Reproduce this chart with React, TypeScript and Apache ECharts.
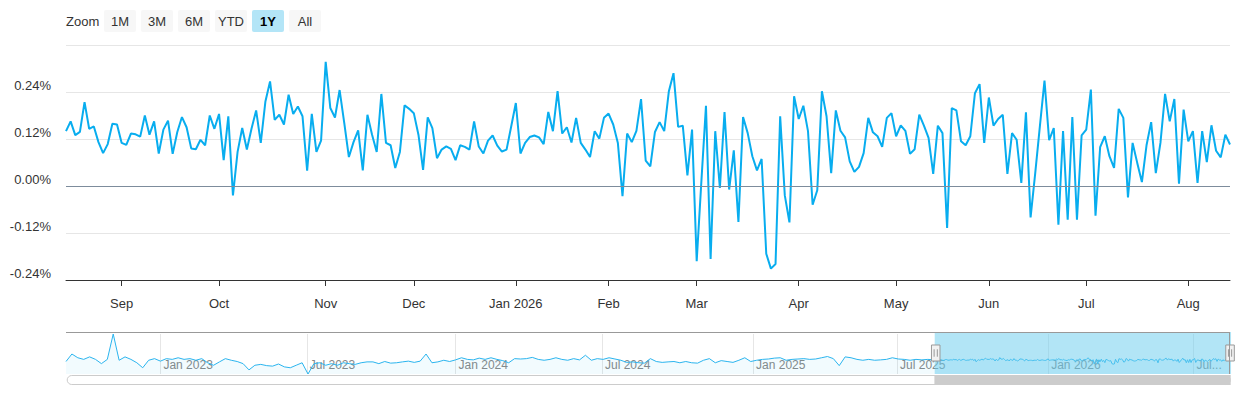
import React, { useEffect, useRef } from "react";
import * as echarts from "echarts";

// ---- calendar (trading days) ----
const START_DATE = "2022-09-08";
const END_DATE = "2026-08-14";
const HOLIDAYS = [
  "2022-09-05", "2022-11-24", "2022-12-26",
  "2023-01-02", "2023-01-16", "2023-02-20", "2023-04-07", "2023-05-29", "2023-06-19", "2023-07-04", "2023-09-04", "2023-11-23", "2023-12-25",
  "2024-01-01", "2024-01-15", "2024-02-19", "2024-03-29", "2024-05-27", "2024-06-19", "2024-07-04", "2024-09-02", "2024-11-28", "2024-12-25",
  "2025-01-01", "2025-01-09", "2025-01-20", "2025-02-17", "2025-04-18", "2025-05-26", "2025-06-19", "2025-07-04", "2025-09-01", "2025-11-27", "2025-12-25",
  "2026-01-01", "2026-01-19", "2026-02-16", "2026-04-03", "2026-05-25", "2026-06-19", "2026-07-03",
];
const MONTHS = ["Jan", "Feb", "Mar", "Apr", "May", "Jun", "Jul", "Aug", "Sep", "Oct", "Nov", "Dec"];

// ---- navigator history (one reading every 5 trading days, % change) ----
const HISTORY_STEP = 5;
const HISTORY_VALUES = [
  0.0, 0.6, 0.3, 0.17, 0.37, 0.17, -0.17, 0.17, 2.2, 0.1,
  0.37, 0.17, -0.1, -0.5, 0.1, 0.23, 0.03, 0.23, 0.17, 0.3,
  0.17, 0.23, 0.1, 0.23, -0.1, -0.3, -0.03, 0.23, 0.1, 0.0,
  -0.17, -0.67, -0.3, -0.23, -0.33, -0.37, -0.2, -0.43, -0.5, -0.3,
  -0.1, -1.0, -0.17, -0.1, -0.3, -0.17, -0.3, -0.1, -0.17, -0.23,
  -0.1, -0.03, -0.03, -0.17, 0.0, -0.13, -0.1, -0.03, 0.03, -0.07,
  0.03, 0.6, -0.1, -0.03, 0.1, 0.0, 0.13, 0.3, 0.17, 0.13,
  0.27, 0.17, 0.3, 0.17, 0.07, -0.1, 0.23, 0.2, 0.23, 0.33,
  0.17, 0.1, 0.17, 0.3, 0.17, 0.1, 0.23, 0.13, 0.5, 0.1,
  0.23, 0.17, 0.3, 0.2, 0.1, -0.07, -0.03, -0.1, -0.13, 0.23,
  0.0, -0.07, -0.03, 0.0, -0.1, 0.0, -0.1, -0.13, 0.1, 0.23,
  -0.1, 0.07, 0.0, -0.07, 0.1, 0.3, 0.0, 0.1, 0.17, 0.2,
  0.27, 0.3, 0.1, 0.17, 0.2, 0.23, 0.17, 0.2, 0.3, 0.4,
  0.23, -0.33, 0.37, 0.3, 0.17, 0.1, 0.17, 0.1, 0.13, 0.17,
  0.3, 0.2, 0.17, 0.1, 0.17, 0.13, 0.17,
];

// ---- last year, daily (% change), 2025-08-14 .. 2026-08-14 ----
const LAST_YEAR_VALUES = [
  0.14, 0.165, 0.13, 0.138, 0.214, 0.146, 0.152, 0.112, 0.084, 0.107,
  0.159, 0.157, 0.11, 0.105, 0.134, 0.132, 0.126, 0.18, 0.131, 0.165,
  0.083, 0.144, 0.167, 0.082, 0.138, 0.176, 0.15, 0.096, 0.094, 0.118,
  0.104, 0.18, 0.146, 0.184, 0.066, 0.178, -0.024, 0.087, 0.148, 0.093,
  0.146, 0.193, 0.11, 0.216, 0.267, 0.169, 0.182, 0.157, 0.233, 0.184,
  0.203,
  0.178, 0.039, 0.184, 0.087, 0.116, 0.317, 0.199, 0.175, 0.245, 0.161,
  0.074, 0.112, 0.142, 0.04, 0.182, 0.131, 0.087, 0.235, 0.11, 0.104,
  0.046, 0.087, 0.206, 0.197, 0.186, 0.131, 0.041, 0.175, 0.148, 0.071,
  0.093, 0.101, 0.095, 0.066, 0.104, 0.1, 0.093, 0.165, 0.101, 0.083,
  0.116, 0.129, 0.103, 0.088, 0.093, 0.152, 0.212, 0.083, 0.11, 0.125,
  0.129, 0.124, 0.107, 0.189, 0.14, 0.242, 0.134, 0.15, 0.111, 0.174,
  0.11, 0.093, 0.074, 0.14, 0.121, 0.174, 0.185, 0.157, 0.11, -0.026,
  0.134, 0.112, 0.141, 0.222, 0.065, 0.05, 0.138, 0.163, 0.14, 0.242,
  0.288, 0.151, 0.154, 0.027, 0.144, -0.192, 0.01, 0.205, -0.186, 0.14,
  -0.005, 0.189, -0.009, 0.091, -0.092, 0.176, 0.135, 0.076, 0.04, 0.069,
  -0.173, -0.211, -0.199, 0.178, -0.024, -0.093, 0.229, 0.171, 0.205, 0.14,
  -0.048, -0.011, 0.242, 0.178, 0.033, 0.193, 0.141, 0.124, 0.063, 0.036,
  0.049, 0.084, 0.174, 0.137, 0.127, 0.1, 0.174, 0.186, 0.127, 0.155,
  0.141, 0.082, 0.094, 0.182, 0.154, 0.123, 0.031, 0.154,
  0.135, -0.107, 0.199, 0.193, 0.114, 0.104, 0.127, 0.237, 0.26, 0.11,
  0.226, 0.154, 0.171, 0.182, 0.031, 0.135, 0.118, 0.008, 0.188, -0.08,
  0.033, 0.152, 0.269, 0.117, 0.148, -0.099, 0.14, -0.086, 0.176, -0.086,
  0.129, 0.144, 0.246, -0.076, 0.099, 0.127, 0.076, 0.046, 0.197, 0.174,
  -0.029, 0.11, 0.059, 0.01, 0.104, 0.163, 0.033, 0.11, 0.235, 0.165,
  0.222, 0.006, 0.195, 0.114, 0.14, 0.008, 0.14, 0.061, 0.155, 0.09,
  0.073, 0.131, 0.106,
];

const Y_MIN = -0.24;
const Y_MAX = 0.36;
const Y_STEP = 0.12;
const ZOOM_BUTTONS = ["1M", "3M", "6M", "YTD", "1Y", "All"];
const SELECTED_BUTTON = "1Y";

const FONT = "'Liberation Sans', Arial, Helvetica, sans-serif";
const LINE_COLOR = "#08adef";

function tradingDays(): string[] {
  const hol = new Set(HOLIDAYS);
  const out: string[] = [];
  const d = new Date(START_DATE + "T00:00:00Z");
  const end = new Date(END_DATE + "T00:00:00Z");
  while (d.getTime() <= end.getTime()) {
    const wd = d.getUTCDay();
    const s = d.toISOString().slice(0, 10);
    if (wd !== 0 && wd !== 6 && !hol.has(s)) out.push(s);
    d.setUTCDate(d.getUTCDate() + 1);
  }
  return out;
}

function buildOption() {
  const dates = tradingDays();
  const N = dates.length;
  const startIdx = N - LAST_YEAR_VALUES.length;
  const monthStart = dates.map((s, i) => i > 0 && s.slice(5, 7) !== dates[i - 1].slice(5, 7));
  const halfYearStart = dates.map((s, i) => monthStart[i] && (s.slice(5, 7) === "01" || s.slice(5, 7) === "07"));

  const data: [number, number][] = [];
  HISTORY_VALUES.forEach((v, k) => {
    const idx = k * HISTORY_STEP;
    if (idx < startIdx) data.push([idx, v]);
  });
  LAST_YEAR_VALUES.forEach((v, j) => data.push([startIdx + j, v]));

  const buttons: any[] = [];
  ZOOM_BUTTONS.forEach((b, k) => {
    const x = 104 + k * 37;
    const sel = b === SELECTED_BUTTON;
    buttons.push({
      type: "rect",
      shape: { x, y: 10, width: 32, height: 22, r: 2 },
      style: { fill: sel ? "#b3e5f7" : "#f7f7f7" },
      silent: true,
    });
    buttons.push({
      type: "text",
      x: x + 16,
      y: 21,
      style: {
        text: b,
        fill: sel ? "#000" : "#333",
        fontSize: 13,
        fontWeight: sel ? "bold" : "normal",
        fontFamily: FONT,
        align: "center",
        verticalAlign: "middle",
      },
      silent: true,
    });
  });

  return {
    animation: false,
    textStyle: { fontFamily: FONT },
    tooltip: { show: false },
    grid: [
      { left: 66, right: 10, top: 45, height: 235, outerBoundsMode: "none" },
      { left: 66, right: 10, top: 334, height: 40, outerBoundsMode: "none" },
    ],
    xAxis: [
      {
        type: "category",
        gridIndex: 0,
        data: dates,
        boundaryGap: false,
        axisLine: { onZero: false, lineStyle: { color: "#333", width: 1 } },
        axisTick: { interval: (i: number) => monthStart[i], length: 6, lineStyle: { color: "#333" } },
        axisLabel: {
          interval: (i: number) => monthStart[i],
          color: "#333",
          fontSize: 13,
          margin: 17,
          fontFamily: FONT,
          formatter: (value: string) => {
            const m = +value.slice(5, 7);
            return m === 1 ? `Jan ${value.slice(0, 4)}` : MONTHS[m - 1];
          },
        },
        splitLine: { show: false },
      },
      {
        type: "category",
        gridIndex: 1,
        data: dates,
        boundaryGap: false,
        axisLine: { show: false, onZero: false },
        axisTick: { show: false },
        axisLabel: {
          interval: (i: number) => halfYearStart[i],
          inside: true,
          align: "left",
          margin: 3,
          padding: [0, 0, 0, 3],
          color: "#888",
          fontSize: 12,
          fontFamily: FONT,
          formatter: (value: string, index: number) => {
            const m = +value.slice(5, 7);
            const label = `${MONTHS[m - 1]} ${value.slice(0, 4)}`;
            return N - 1 - index < 40 ? `${MONTHS[m - 1]}...` : label;
          },
        },
        splitLine: {
          show: true,
          interval: (i: number) => halfYearStart[i],
          lineStyle: { color: "#e6e6e6", width: 1 },
        },
      },
    ],
    yAxis: [
      {
        type: "value",
        gridIndex: 0,
        min: Y_MIN,
        max: Y_MAX,
        interval: Y_STEP,
        axisLine: { show: false },
        axisTick: { show: false },
        axisLabel: {
          showMaxLabel: false,
          color: "#333",
          fontSize: 13,
          margin: 15,
          verticalAlign: "bottom",
          lineHeight: 13,
          fontFamily: FONT,
          formatter: (v: number) => (Math.abs(v) < 1e-9 ? 0 : v).toFixed(2) + "%",
        },
        splitLine: { show: true, lineStyle: { color: "#e6e6e6", width: 1 } },
      },
      {
        type: "value",
        gridIndex: 1,
        show: false,
        scale: true,
        min: "dataMin",
        max: "dataMax",
        splitLine: { show: false },
      },
    ],
    dataZoom: [
      {
        type: "slider",
        xAxisIndex: 0,
        filterMode: "filter",
        startValue: startIdx,
        endValue: N - 1,
        left: 66,
        right: 10,
        top: 332,
        height: 42,
        showDataShadow: false,
        showDetail: false,
        brushSelect: false,
        moveHandleSize: 0,
        moveHandleStyle: { opacity: 0 },
        backgroundColor: "rgba(0,0,0,0)",
        borderColor: "rgba(0,0,0,0)",
        fillerColor: "rgba(102,204,238,0.5)",
        handleIcon: "path://M-4,-7.5 h8 v15 h-8 z M-1.5,-3.5 v7 M1.5,-3.5 v7",
        handleSize: 16,
        handleStyle: { color: "#f2f2f2", borderColor: "#999", borderWidth: 1 },
        emphasis: { handleStyle: { color: "#f2f2f2", borderColor: "#999", borderWidth: 1 } },
      },
      {
        type: "slider",
        xAxisIndex: 0,
        filterMode: "filter",
        startValue: startIdx,
        endValue: N - 1,
        left: 66,
        right: 10,
        top: 375,
        height: 10,
        showDataShadow: false,
        showDetail: false,
        brushSelect: false,
        moveHandleSize: 0,
        moveHandleStyle: { opacity: 0 },
        backgroundColor: "#fff",
        borderColor: "#cccccc",
        borderRadius: 5,
        fillerColor: "#cccccc",
        handleSize: 0,
        handleStyle: { opacity: 0 },
        emphasis: { handleStyle: { opacity: 0 } },
      },
    ],
    series: [
      {
        type: "line",
        xAxisIndex: 0,
        yAxisIndex: 0,
        data,
        showSymbol: false,
        silent: true,
        clip: true,
        lineStyle: { color: LINE_COLOR, width: 2 },
        itemStyle: { color: LINE_COLOR },
        markLine: {
          silent: true,
          symbol: ["none", "none"],
          label: { show: false },
          lineStyle: { color: "#7d8c9c", width: 1, type: "solid" },
          emphasis: { disabled: true },
          data: [{ yAxis: 0 }],
        },
      },
      {
        type: "line",
        xAxisIndex: 1,
        yAxisIndex: 1,
        data,
        showSymbol: false,
        silent: true,
        lineStyle: { color: "#2ab4ee", width: 1 },
        itemStyle: { color: "#2ab4ee" },
        areaStyle: { color: LINE_COLOR, opacity: 0.05, origin: "start" },
      },
    ],
    graphic: [
      {
        type: "text",
        x: 66,
        y: 21,
        style: { text: "Zoom", fill: "#333", fontSize: 13, fontFamily: FONT, align: "left", verticalAlign: "middle" },
        silent: true,
      },
      ...buttons,
      {
        type: "line",
        shape: { x1: 66, y1: 332.5, x2: 1230, y2: 332.5 },
        style: { stroke: "#999", lineWidth: 1 },
        silent: true,
        z: 10,
      },
      {
        type: "line",
        shape: { x1: 1229.5, y1: 332.5, x2: 1229.5, y2: 374 },
        style: { stroke: "#999", lineWidth: 1 },
        silent: true,
        z: 10,
      },
    ],
  };
}

export default function App() {
  const ref = useRef<HTMLDivElement>(null);
  useEffect(() => {
    if (!ref.current) return;
    const chart = echarts.init(ref.current, null, { renderer: "svg" });
    chart.setOption(buildOption() as any);
    return () => {
      chart.dispose();
    };
  }, []);
  return (
    <div
      ref={ref}
      style={{ position: "absolute", left: 0, top: 0, width: 1240, height: 400, background: "#fff" }}
    />
  );
}
